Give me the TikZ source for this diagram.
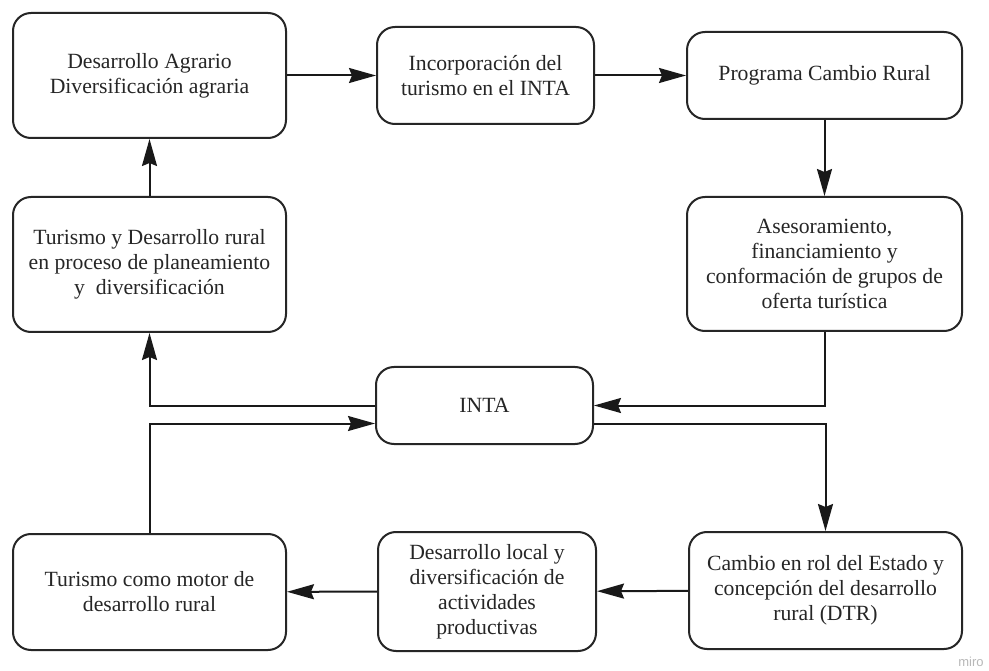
\documentclass[tikz,border=0pt]{standalone}
\usepackage{fontspec}
\setmainfont{Liberation Serif}
\newfontfamily\wmfont{Liberation Sans}
\usetikzlibrary{arrows.meta}
\begin{document}
\begin{tikzpicture}[x=1pt,y=-1pt,
  box/.style={draw=black!85, line width=2pt, rounded corners=18pt, align=center,
    inner sep=0pt, font=\fontsize{21.7}{25}\selectfont, text=black!85},
  conn/.style={draw=black!90, line width=2pt, -{Stealth[length=27pt,width=15pt,inset=3pt]}},
]
\useasboundingbox (0,0) rectangle (989,671);
\fill[white] (0,0) rectangle (989,671);

\node[box, minimum width=273pt, minimum height=125pt] (A) at (149.5,75.5)
  {Desarrollo Agrario\\Diversificación agraria};
\node[box, minimum width=217pt, minimum height=97pt] (Inc) at (485.5,75.5)
  {Incorporación del\\turismo en el INTA};
\node[box, minimum width=275pt, minimum height=87pt] (Prog) at (824.5,75.5)
  {Programa Cambio Rural};
\node[box, minimum width=275pt, minimum height=134pt] (Ases) at (824.5,264)
  {Asesoramiento,\\financiamiento y\\conformación de grupos de\\oferta turística};
\node[box, minimum width=273pt, minimum height=135pt] (TyD) at (149.5,264.5)
  {Turismo y Desarrollo rural\\en proceso de planeamiento\\y\ \ diversificación};
\node[box, minimum width=217pt, minimum height=77pt] (INTA) at (484.5,405.5)
  {INTA};
\node[box, minimum width=273pt, minimum height=116pt] (TM) at (149.5,592)
  {Turismo como motor de\\desarrollo rural};
\node[box, minimum width=218pt, minimum height=119pt] (DL) at (487,591.5)
  {Desarrollo local y\\diversificación de\\actividades\\productivas};
\node[box, minimum width=273pt, minimum height=117pt] (Cam) at (825.5,590.5)
  {Cambio en rol del Estado y\\concepción del desarrollo\\rural (DTR)};

\node[font=\wmfont\fontsize{13}{14}\selectfont, text=black!28] (miro) at (971,662) {miro};

\draw[conn] (A) -- (Inc);
\draw[conn] (Inc) -- (Prog);
\draw[conn] (Prog) -- (Ases);
\draw[conn] (TyD) -- (A);
\draw[conn] (Ases.south) |- (INTA.east);
\draw[conn] (INTA.west) -| (TyD.south);
\draw[conn] (TM.north) |- ([yshift=-18pt]INTA.west);
\draw[conn] ([yshift=-18pt]INTA.east) -| (Cam.north);
\draw[conn] (Cam) -- (DL);
\draw[conn] (DL) -- (TM);
\end{tikzpicture}
\end{document}
